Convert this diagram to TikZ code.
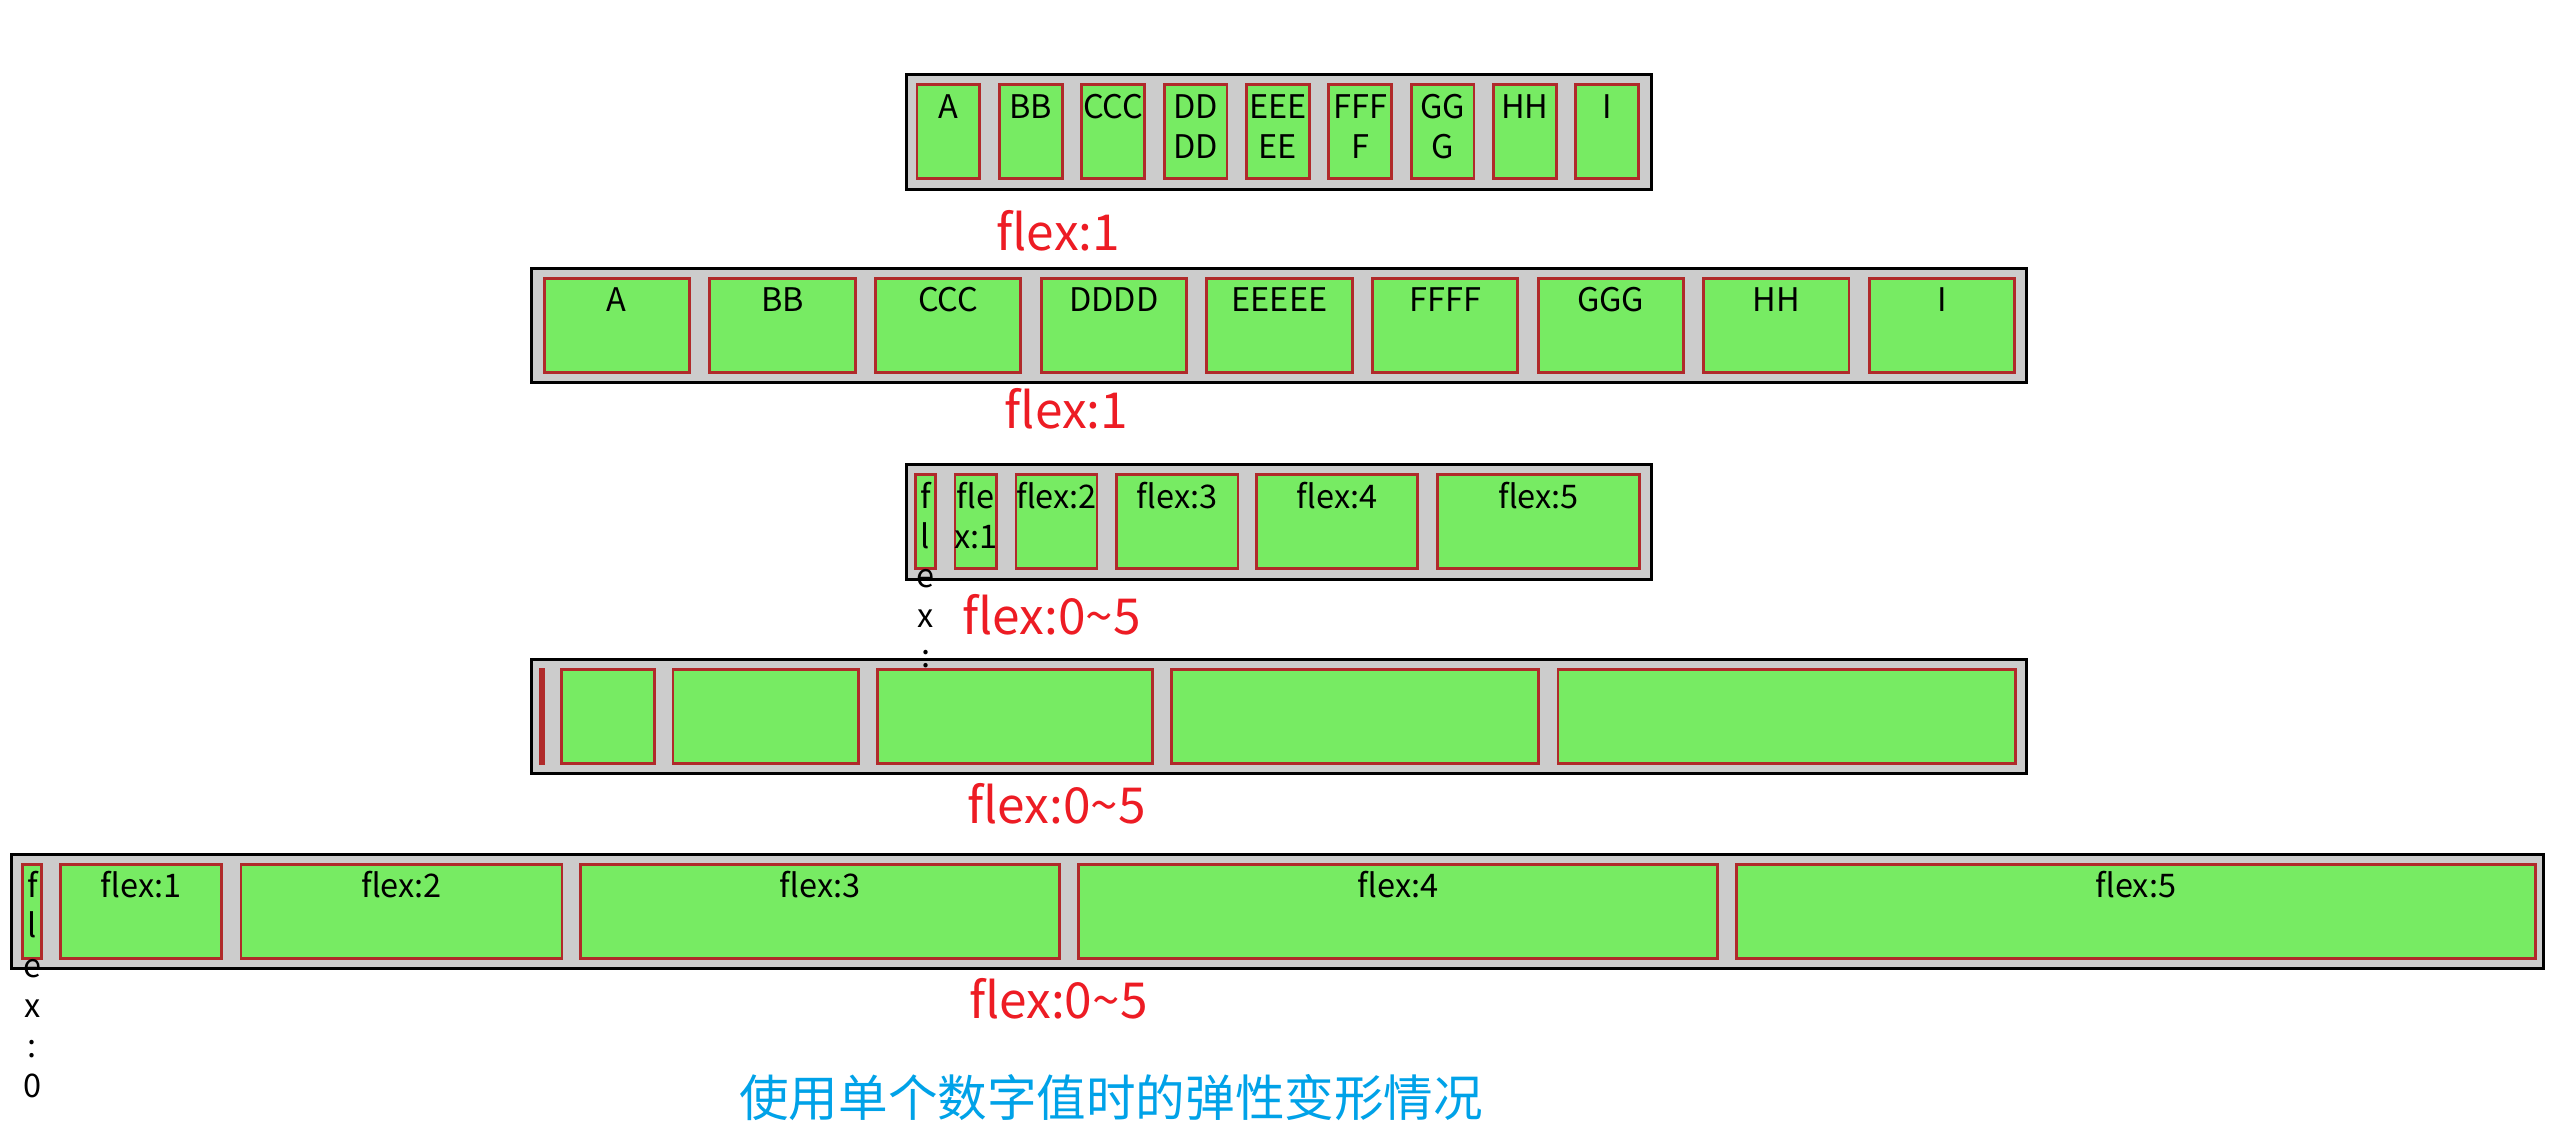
\documentclass[tikz,border=0pt]{standalone}
\usepackage{fontspec}
\setmainfont{Noto Sans CJK SC}
\usetikzlibrary{positioning}
\definecolor{boxgray}{HTML}{CCCCCC}
\definecolor{itemgreen}{HTML}{77EB63}
\definecolor{itemborder}{HTML}{B02A2A}
\definecolor{labelred}{HTML}{ED1C24}
\definecolor{captionblue}{HTML}{00A2E8}
\tikzset{
  flexbox/.style={draw=black, fill=boxgray, line width=1.9pt, inner sep=0pt, anchor=north west},
  flexitem/.style={draw=itemborder, fill=itemgreen, line width=1.7pt, inner sep=0pt, anchor=north west},
  itemtext/.style={anchor=north, inner sep=0pt, align=center, font=\fontsize{20}{24.5}\selectfont},
  flexlabel/.style={anchor=base, inner sep=0pt, text=labelred, font=\fontsize{30.5}{38}\selectfont},
  caption/.style={inner sep=0pt, text=captionblue, font=\fontsize{30.5}{36}\selectfont}
}

\begin{document}
\begin{tikzpicture}[x=1pt, y=-1pt]
\useasboundingbox[fill=white] (0,0) rectangle (1568,702.5);
\node[flexbox, minimum width=458.3pt, minimum height=70.4pt] (box1) at (556.4,45) {};
\node[flexbox, minimum width=919.6pt, minimum height=70.4pt] (box2) at (326,164.2) {};
\node[flexbox, minimum width=458.3pt, minimum height=70.4pt] (box3) at (556.4,285) {};
\node[flexbox, minimum width=919.6pt, minimum height=70.4pt] (box4) at (326,404.5) {};
\node[flexbox, minimum width=1557.7pt, minimum height=70.4pt] (box5) at (6,524.6) {};

\foreach \t [count=\i from 0] in {A,BB,CCC,DD\\DD,EEE\\EE,FFF\\F,GG\\G,HH,I}{
  \node[flexitem, minimum width=38.6pt, minimum height=57.8pt] (r1i\i) at ({563.3+50.65*\i},51.3) {};
  \node[itemtext] (r1t\i) at ([yshift=-4.05pt]r1i\i.north) {\strut\t};
}
\node[flexlabel] (lab1) at (651,154.2) {flex:1};

\foreach \t [count=\i from 0] in {A,BB,CCC,DDDD,EEEEE,FFFF,GGG,HH,I}{
  \node[flexitem, minimum width=89.4pt, minimum height=57.8pt] (r2i\i) at ({333.9+101.9*\i},170.5) {};
  \node[itemtext] (r2t\i) at ([yshift=-4.05pt]r2i\i.north) {\strut\t};
}
\node[flexlabel] (lab2) at (656,263.5) {flex:1};

\foreach \l/\r/\t [count=\i from 0] in {562.5/576.2/{f\\l\\e\\x\\:\\0},586.6/613.8/{fle\\x:1},624.1/675.7/flex:2,685.8/762.4/flex:3,772.1/872.9/flex:4,883.2/1009.5/flex:5}{
  \node[flexitem, minimum width={(\r-\l-1.7)*1pt}, minimum height=57.8pt] (r3i\i) at (\l,291.2) {};
  \node[itemtext] (r3t\i) at ([yshift=-4.05pt]r3i\i.north) {\strut\t};
}
\node[flexlabel] (lab3) at (646.8,390) {flex:0\textasciitilde5};

\foreach \l/\r [count=\i from 0] in {331.4/335.4,344.5/403.6,413.2/529,538.9/709.6,719.8/947,957.5/1240.5}{
  \node[flexitem, minimum width={(\r-\l-1.7)*1pt}, minimum height=57.8pt] (r4i\i) at (\l,410.8) {};
}
\node[flexlabel] (lab4) at (650,506.3) {flex:0\textasciitilde5};

\foreach \l/\r/\t [count=\i from 0] in {13.2/26.6/{f\\l\\e\\x\\:\\0},36.5/137.3/flex:1,147.4/346.5/flex:2,356.4/652.5/flex:3,662.6/1057.4/flex:4,1067.3/1560.3/flex:5}{
  \node[flexitem, minimum width={(\r-\l-1.7)*1pt}, minimum height=57.8pt] (r5i\i) at (\l,530.9) {};
  \node[itemtext] (r5t\i) at ([yshift=-4.05pt]r5i\i.north) {\strut\t};
}
\node[flexlabel] (lab5) at (651,626.3) {flex:0\textasciitilde5};

\node[caption] (cap) at (683.5,675) {使用单个数字值时的弹性变形情况};
\end{tikzpicture}
\end{document}
